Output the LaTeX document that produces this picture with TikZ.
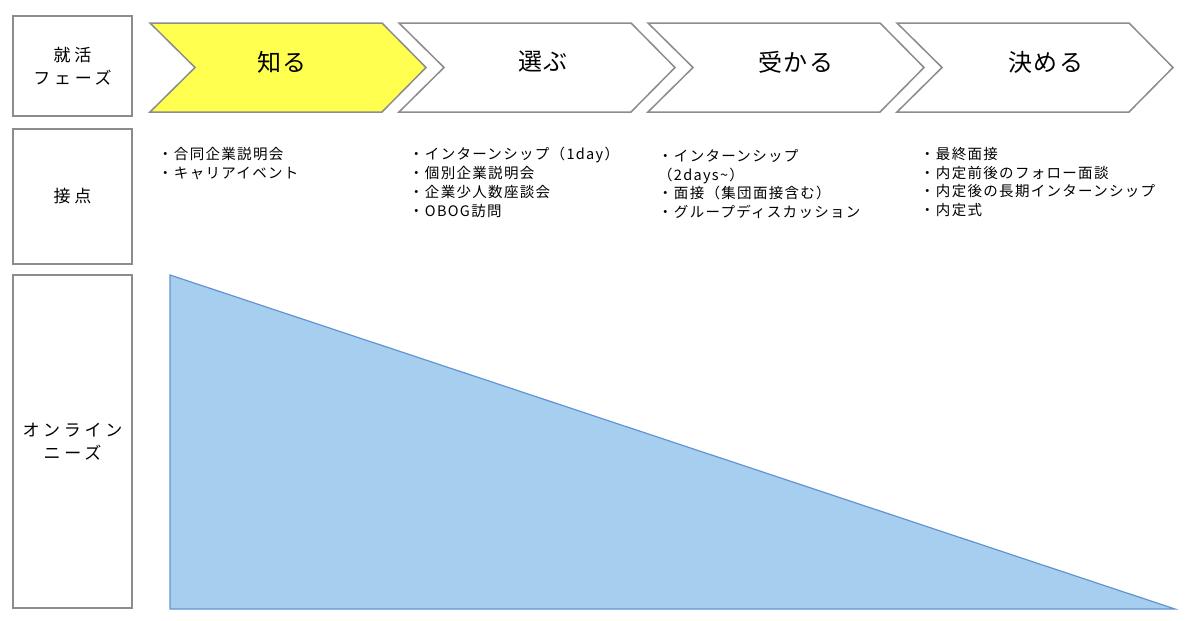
\documentclass[tikz,border=0pt]{standalone}
\usepackage{fontspec}
\setmainfont{Noto Sans CJK JP}
\usetikzlibrary{positioning}
\definecolor{phaseyellow}{RGB}{255,255,80}
\definecolor{framegray}{RGB}{140,140,140}
\definecolor{needfill}{RGB}{166,206,238}
\definecolor{needline}{RGB}{98,148,210}

\begin{document}
\begin{tikzpicture}[x=1pt, y=-1pt,
  hdr/.style={rectangle, draw=framegray, line width=1.5pt, minimum width=119pt, inner sep=0pt, align=center, font=\fontsize{17}{23}\selectfont\addfontfeatures{LetterSpace=22}},
  phs/.style={draw=framegray, line width=1.5pt, line join=miter},
  plab/.style={inner sep=0pt, font=\fontsize{24}{26}\selectfont\addfontfeatures{LetterSpace=8}},
  blist/.style={anchor=north west, align=left, inner sep=0pt, font=\fontsize{14.5}{18.8}\selectfont\addfontfeatures{LetterSpace=9}}
]
  \useasboundingbox (0,0) rectangle (1200,621);
  % ---------------- row headers ----------------
  \node[hdr, minimum height=100pt] (hphase) at (72.5,66) {就活\\フェーズ};
  \node[hdr, minimum height=135pt] (hcontact) at (72.5,196.5) {接点};
  \node[hdr, minimum height=333pt] (hneeds) at (72.5,441.5) {オンライン\\ニーズ};
  % ---------------- phase chevrons ----------------
  \foreach \i/\lab/\dx/\col in {0/知る/-8/phaseyellow, 1/選ぶ/4/white, 2/受かる/8/white, 3/決める/9/white}{
    \pgfmathsetmacro\xs{150+249*\i}
    \draw[phs, fill=\col] (\xs,23) -- ++(232,0) -- ++(44,44.5) -- ++(-44,44.5)
      -- ++(-232,0) -- ++(45,-44.5) -- cycle;
    \node[plab] (ph\i) at (\xs+140+\dx,62) {\lab};
  }
  % ---------------- contact points ----------------
  \node[blist] (tp0) at (158,147) {・合同企業説明会\\・キャリアイベント};
  \node[blist] (tp1) at (409,147) {・インターンシップ（1day）\\・個別企業説明会\\・企業少人数座談会\\・OBOG訪問};
  \node[blist] (tp2) at (658,149) {・インターンシップ\\（2days\textasciitilde）\\・面接（集団面接含む）\\・グループディスカッション};
  \node[blist] (tp3) at (920,147) {・最終面接\\・内定前後のフォロー面談\\・内定後の長期インターンシップ\\・内定式};
  % ---------------- online needs ----------------
  \draw[fill=needfill, draw=needline, line width=1.2pt] (170,275) -- (170,609) -- (1175,609) -- cycle;
\end{tikzpicture}
\end{document}
